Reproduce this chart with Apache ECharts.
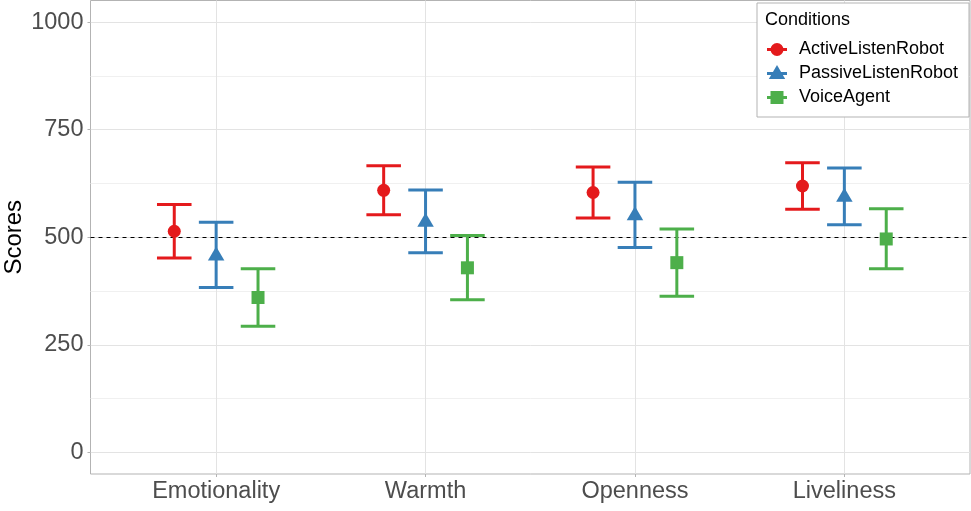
<!DOCTYPE html>
<html>
<head>
<meta charset="utf-8">
<script src="https://cdn.jsdelivr.net/npm/echarts@6/dist/echarts.min.js"></script>
<style>
html,body{margin:0;padding:0;background:#fff;}
#chart{width:971px;height:511px;}
</style>
</head>
<body>
<div id="chart"></div>
<script>
// ---- data ----
const categories = ['Emotionality', 'Warmth', 'Openness', 'Liveliness'];
const conditions = ['ActiveListenRobot', 'PassiveListenRobot', 'VoiceAgent'];
const activeMean  = [514, 609, 604, 619];
const activeLow   = [452, 552, 545, 565];
const activeHigh  = [576, 666, 663, 673];
const passiveMean = [459, 537, 552, 595];
const passiveLow  = [383, 464, 476, 529];
const passiveHigh = [535, 610, 628, 661];
const voiceMean   = [360, 429, 441, 496];
const voiceLow    = [293, 355, 363, 427];
const voiceHigh   = [427, 504, 519, 566];
const yTicks = [0, 250, 500, 750, 1000];
const yMinorTicks = [125, 375, 625, 875];
const referenceLine = 500;
const yTitle = 'Scores';
const legendTitle = 'Conditions';

// ---- styling ----
const FONT = '"Liberation Sans", Arial, Helvetica, sans-serif';
const colors = ['#E41A1C', '#377EB8', '#4DAF4A'];
const dodge = [-0.2, 0, 0.2];
const capWidth = 0.165;
const catPos = categories.map((c, i) => i + 1);

const groups = [
  {mean: activeMean, low: activeLow, high: activeHigh, symbol: 'circle', size: 13, offset: [0, 0]},
  {mean: passiveMean, low: passiveLow, high: passiveHigh, symbol: 'triangle', size: [16.5, 14], offset: [0, -1.5]},
  {mean: voiceMean, low: voiceLow, high: voiceHigh, symbol: 'rect', size: 13, offset: [0, 0]}
];

const series = [];
// gridlines + reference line
series.push({
  type: 'line', name: '_grid', data: [], silent: true, z: 0,
  markLine: {
    silent: true, symbol: ['none', 'none'], label: {show: false}, animation: false, z: 0,
    emphasis: {disabled: true},
    data: [
      ...yMinorTicks.map(v => ({yAxis: v, lineStyle: {color: '#F0F0F0', width: 1, type: 'solid'}})),
      ...yTicks.map(v => ({yAxis: v, lineStyle: {color: '#E3E3E3', width: 1, type: 'solid'}})),
      ...catPos.map(v => ({xAxis: v, lineStyle: {color: '#E3E3E3', width: 1, type: 'solid'}}))
    ]
  }
});
series.push({
  type: 'line', name: '_ref', data: [], silent: true, z: 1,
  markLine: {
    silent: true, symbol: ['none', 'none'], label: {show: false}, animation: false, z: 1,
    emphasis: {disabled: true},
    data: [{yAxis: referenceLine, lineStyle: {color: '#000', width: 1, type: [4, 4]}}]
  }
});

groups.forEach((g, s) => {
  const color = colors[s];
  series.push({
    type: 'custom', name: conditions[s], z: 3,
    data: categories.map((c, i) => [catPos[i] + dodge[s], g.low[i], g.high[i]]),
    encode: {x: 0, y: [1, 2]},
    renderItem: function (params, api) {
      const x = api.value(0), lo = api.value(1), hi = api.value(2);
      const pLo = api.coord([x, lo]);
      const pHi = api.coord([x, hi]);
      const hw = api.size([capWidth, 0])[0] / 2;
      const st = {stroke: color, lineWidth: 3, lineCap: 'butt'};
      return {
        type: 'group',
        children: [
          {type: 'line', shape: {x1: pLo[0], y1: pLo[1], x2: pHi[0], y2: pHi[1]}, style: st},
          {type: 'line', shape: {x1: pLo[0] - hw, y1: pLo[1], x2: pLo[0] + hw, y2: pLo[1]}, style: st},
          {type: 'line', shape: {x1: pHi[0] - hw, y1: pHi[1], x2: pHi[0] + hw, y2: pHi[1]}, style: st}
        ]
      };
    },
    animation: false
  });
  series.push({
    type: 'scatter', name: conditions[s] + ' mean', z: 4,
    symbol: g.symbol, symbolSize: g.size, symbolOffset: g.offset,
    itemStyle: {color: color, opacity: 1},
    data: categories.map((c, i) => [catPos[i] + dodge[s], g.mean[i]]),
    animation: false
  });
});

// ---- legend (graphic) ----
const LZ = 100;
const legendX = 757, legendY = 3, rowY = [49.5, 73.5, 97.5];
const legendChildren = [
  {type: 'rect', z: LZ, shape: {x: legendX, y: legendY, width: 212, height: 114},
   style: {fill: '#fff', stroke: '#B3B3B3', lineWidth: 1}},
  {type: 'text', z: LZ + 1, x: legendX + 8, y: 20.5,
   style: {text: legendTitle, font: '18px ' + FONT, fill: '#000', verticalAlign: 'middle'}}
];
conditions.forEach((name, s) => {
  const cy = rowY[s], cx = 777;
  legendChildren.push({type: 'line', z: LZ + 1, shape: {x1: cx - 10, y1: cy, x2: cx + 10, y2: cy},
    style: {stroke: colors[s], lineWidth: 3}});
  if (s === 0) {
    legendChildren.push({type: 'circle', z: LZ + 2, shape: {cx: cx, cy: cy, r: 6.5}, style: {fill: colors[s]}});
  } else if (s === 1) {
    legendChildren.push({type: 'polygon', z: LZ + 2, shape: {points: [[cx, cy - 8.5], [cx - 8.2, cy + 5.5], [cx + 8.2, cy + 5.5]]}, style: {fill: colors[s]}});
  } else {
    legendChildren.push({type: 'rect', z: LZ + 2, shape: {x: cx - 6.5, y: cy - 6.5, width: 13, height: 13}, style: {fill: colors[s]}});
  }
  legendChildren.push({type: 'text', z: LZ + 1, x: 799, y: cy,
    style: {text: name, font: '18px ' + FONT, fill: '#000', verticalAlign: 'middle'}});
});

const chart = echarts.init(document.getElementById('chart'), null, {renderer: 'canvas'});
chart.setOption({
  animation: false,
  backgroundColor: '#fff',
  grid: {left: 90.5, right: 1, top: 0.5, bottom: 37, containLabel: false, outerBoundsMode: 'none',
    show: true, borderColor: '#B3B3B3', borderWidth: 1, backgroundColor: 'transparent'},
  xAxis: {
    type: 'value', min: 0.4, max: 4.6,
    axisLine: {show: false, onZero: false},
    splitLine: {show: false},
    axisTick: {show: true, length: 3, lineStyle: {color: '#B3B3B3'}, customValues: catPos},
    axisLabel: {customValues: catPos, formatter: v => categories[Math.round(v) - 1] || '',
      color: '#4D4D4D', fontSize: 23.5, fontFamily: FONT, margin: 6}
  },
  yAxis: {
    type: 'value', min: -50, max: 1050,
    name: yTitle, nameLocation: 'middle', nameGap: 64, nameRotate: 90, nameMoveOverlap: false,
    nameTextStyle: {color: '#000', fontSize: 24, fontFamily: FONT},
    axisLine: {show: false, onZero: false},
    splitLine: {show: false},
    axisTick: {show: true, length: 3, lineStyle: {color: '#B3B3B3'}, customValues: yTicks},
    axisLabel: {customValues: yTicks, formatter: v => String(v), color: '#4D4D4D', fontSize: 23.5, fontFamily: FONT, margin: 7}
  },
  series: series,
  graphic: {elements: [{type: 'group', z: LZ, children: legendChildren}]}
});
</script>
</body>
</html>
